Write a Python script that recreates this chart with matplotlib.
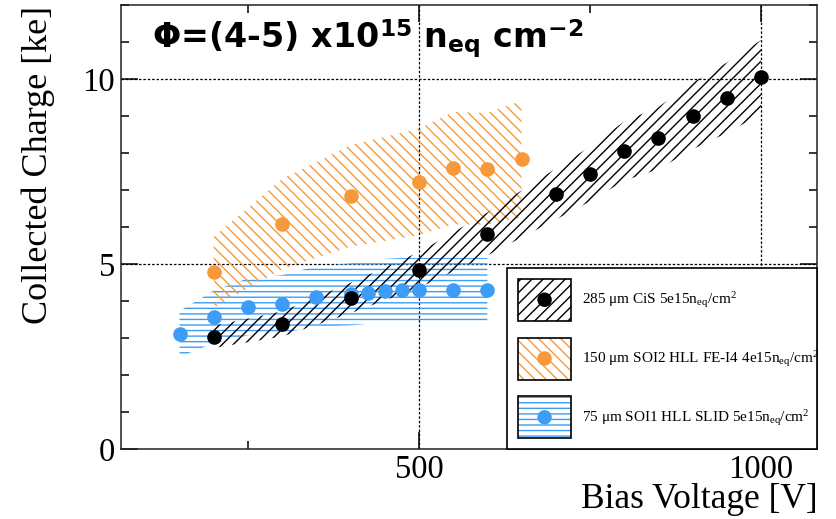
import numpy as np
import matplotlib
matplotlib.use("Agg")
import matplotlib.pyplot as plt
from matplotlib.patches import Patch, Rectangle, Circle
from matplotlib.legend_handler import HandlerBase
from matplotlib.ticker import MultipleLocator

# values
cis_v = [200, 300, 400, 500, 600, 700, 750, 800, 850, 900, 950, 1000]
cis_q = [3.03, 3.38, 4.08, 4.84, 5.81, 6.89, 7.43, 8.05, 8.40, 9.00, 9.49, 10.05]
cis_err = [0.30, 0.34, 0.41, 0.48, 0.58, 0.69, 0.74, 0.80, 0.84, 0.90, 0.95, 1.00]

soi2_v = [200, 300, 400, 500, 550, 600, 650]
soi2_q = [4.78, 6.08, 6.84, 7.22, 7.59, 7.57, 7.84]
soi2_err = [0.96, 1.22, 1.37, 1.44, 1.52, 1.51, 1.57]

soi1_v = [150, 200, 250, 300, 350, 400, 425, 450, 475, 500, 550, 600]
soi1_q = [3.11, 3.57, 3.84, 3.92, 4.12, 4.18, 4.22, 4.28, 4.30, 4.30, 4.30, 4.30]
soi1_err = [0.62, 0.71, 0.77, 0.78, 0.82, 0.84, 0.84, 0.86, 0.86, 0.86, 0.86, 0.86]

labels = [r"285 $\mathrm{\mu}$m CiS 5e15n$_{\mathrm{eq}}$/cm$^{2}$",
          r"150 $\mathrm{\mu}$m SOI2 HLL FE-I4 4e15n$_{\mathrm{eq}}$/cm$^{2}$",
          r"75 $\mathrm{\mu}$m SOI1 HLL SLID 5e15n$_{\mathrm{eq}}$/cm$^{2}$"]

orange = "#f7993a"
blue = "#3d9cf5"

plt.rcParams["mathtext.fontset"] = "custom"
plt.rcParams["mathtext.rm"] = "Liberation Serif"
plt.rcParams["mathtext.it"] = "Liberation Serif:italic"
plt.rcParams["mathtext.bf"] = "DejaVu Sans:bold"
plt.rcParams["hatch.linewidth"] = 1.0
serif = "Liberation Serif"


class BandHandler(HandlerBase):
    """hatched box with a black frame and a dot in the middle"""
    def create_artists(self, legend, orig_handle, xdescent, ydescent,
                       width, height, fontsize, trans):
        color = orig_handle.get_edgecolor()
        x0, y0 = -xdescent, -ydescent
        box = Rectangle((x0, y0), width, height, facecolor="white",
                        edgecolor=color, hatch=orig_handle.get_hatch(),
                        linewidth=0, transform=trans)
        frame = Rectangle((x0, y0), width, height, facecolor="none",
                          edgecolor="black", linewidth=1.2, transform=trans)
        dot = Circle((x0 + width / 2, y0 + height / 2), radius=5.2,
                     facecolor=color, edgecolor="none", transform=trans)
        return [box, frame, dot]


fig = plt.figure(figsize=(8.37, 5.19), dpi=100)
ax = fig.add_axes([0.1442, 0.1349, 0.9761 - 0.1442, 0.9904 - 0.1349])

def band(v, q, e, color, hatch):
    v = np.array(v); q = np.array(q); e = np.array(e)
    ax.fill_between(v, q - e, q + e, facecolor="none", edgecolor=color,
                    hatch=hatch, linewidth=0, zorder=2)

hatch_cis, hatch_soi2, hatch_soi1 = "///", "\\\\\\", "---"

band(soi1_v, soi1_q, soi1_err, blue, hatch_soi1)
band(soi2_v, soi2_q, soi2_err, orange, hatch_soi2)
band(cis_v, cis_q, cis_err, "black", hatch_cis)

ax.plot(soi1_v, soi1_q, "o", color=blue, ms=9.5, zorder=4)
ax.plot(soi2_v, soi2_q, "o", color=orange, ms=9.5, zorder=4)
ax.plot(cis_v, cis_q, "o", color="black", ms=9.5, zorder=5)

ax.set_xlim(64, 1082)
ax.set_ylim(0, 12)
ax.xaxis.set_major_locator(MultipleLocator(500))
ax.xaxis.set_minor_locator(MultipleLocator(250))
ax.yaxis.set_major_locator(MultipleLocator(5))
ax.yaxis.set_minor_locator(MultipleLocator(1))
ax.tick_params(which="both", direction="in", top=True, right=True, width=1.1)
ax.tick_params(which="major", length=12, labelsize=23.5, pad=4)
ax.tick_params(which="minor", length=6)
for lab in ax.get_xticklabels() + ax.get_yticklabels():
    lab.set_fontfamily(serif)
for s in ax.spines.values():
    s.set_linewidth(1.1)
    s.set_color("#222222")

for x in [500, 1000]:
    ax.axvline(x, color="black", ls=(0, (2, 1.5)), lw=0.9, zorder=1)
for y in [5, 10]:
    ax.axhline(y, color="black", ls=(0, (2, 1.5)), lw=0.9, zorder=1)

fig.text(38 / 837, 1 - 165 / 519, "Collected Charge [ke]", rotation=90,
         ha="center", va="center", fontsize=26, family=serif)
fig.text(818 / 837, 1 - 500 / 519, "Bias Voltage [V]", ha="right",
         va="center", fontsize=25.5, family=serif)

ax.text(0.045, 0.903, r"Φ=(4-5) x10$^{\mathbf{15}}$ n$_{\mathbf{eq}}$ cm$^{\mathbf{-2}}$",
        transform=ax.transAxes, fontsize=24, family="DejaVu Sans", fontweight="bold",
        ha="left", va="baseline")

handles = [Patch(edgecolor=c, hatch=h) for c, h in
           [("black", hatch_cis), (orange, hatch_soi2), (blue, hatch_soi1)]]

leg = ax.legend(handles, labels, handler_map={Patch: BandHandler()},
                loc="lower left", bbox_to_anchor=(0.555, 0.0, 0.445, 0.403),
                mode="expand", borderaxespad=0, fancybox=False, framealpha=1,
                edgecolor="black", prop={"family": serif, "size": 11},
                handlelength=3.5, handleheight=3.85, labelspacing=1.1,
                handletextpad=0.7, borderpad=0.7)
leg.get_frame().set_linewidth(1.2)
leg.set_zorder(10)

fig.savefig("out.png", dpi=100)
